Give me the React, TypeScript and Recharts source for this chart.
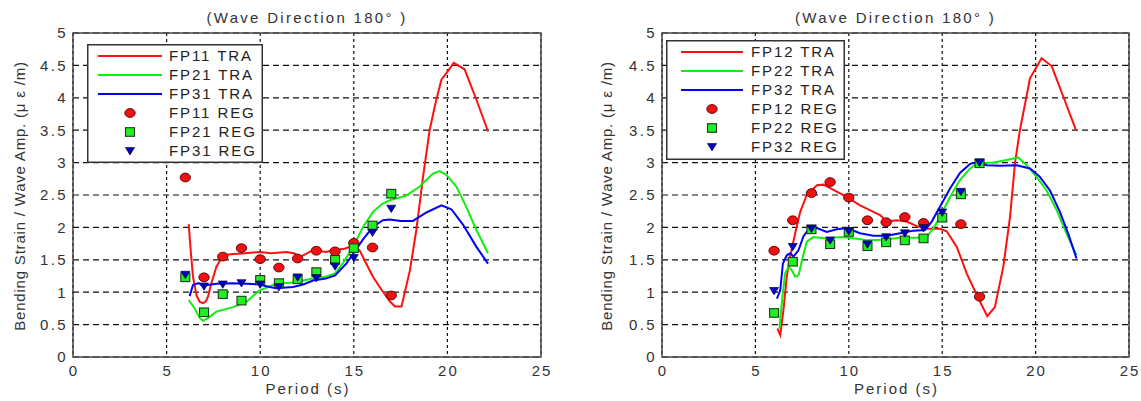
import React from 'react';
import { ComposedChart, Line, Scatter, XAxis, YAxis, CartesianGrid, ReferenceArea, Legend } from 'recharts';

const FONT = '"Liberation Sans", Arial, Helvetica, sans-serif';
const RED = '#ff1010';
const GREEN = '#10ee10';
const BLUE = '#0000ff';

const xTicks = [0, 5, 10, 15, 20, 25];
const yTicks = [0, 0.5, 1, 1.5, 2, 2.5, 3, 3.5, 4, 4.5, 5];
const titleText = '(Wave Direction 180°  )';
const xLabelText = 'Period (s)';
const yLabelText = 'Bending Strain / Wave Amp. (μ ε /m)';

const regPeriods = [6, 7, 8, 9, 10, 11, 12, 13, 14, 15, 16, 17];

// ---- left panel ----
const leftNames = ['FP11 TRA', 'FP21 TRA', 'FP31 TRA', 'FP11 REG', 'FP21 REG', 'FP31 REG'];
const fp11Reg = [2.77, 1.23, 1.55, 1.68, 1.51, 1.38, 1.52, 1.64, 1.63, 1.76, 1.69, 0.95];
const fp21Reg = [1.23, 0.69, 0.97, 0.87, 1.19, 1.14, 1.2, 1.31, 1.5, 1.68, 2.03, 2.52];
const fp31Reg = [1.27, 1.09, 1.12, 1.14, 1.12, 1.08, 1.23, 1.22, 1.4, 1.53, 1.92, 2.29];

const fp11TraX = [6.18, 6.3, 6.41, 6.6, 6.77, 6.95, 7.1, 7.21, 7.4, 7.66, 8.01, 8.55, 9.2, 9.97, 10.6, 11.4, 11.8, 12.15, 12.5, 12.82, 13.5, 14.0, 14.5, 14.96, 15.3, 15.67, 16.0, 16.38, 16.92, 17.2, 17.55, 18.0, 18.34, 18.7, 19.05, 19.35, 19.68, 20.0, 20.34, 20.92, 21.55, 22.17];
const fp11TraY = [2.05, 1.6, 1.24, 0.95, 0.85, 0.83, 0.86, 0.93, 1.15, 1.39, 1.57, 1.59, 1.6, 1.62, 1.6, 1.62, 1.6, 1.55, 1.6, 1.65, 1.62, 1.65, 1.67, 1.72, 1.65, 1.44, 1.25, 1.08, 0.86, 0.78, 0.78, 1.34, 1.96, 2.78, 3.5, 3.9, 4.28, 4.4, 4.54, 4.44, 3.97, 3.48];

const fp21TraX = [6.18, 6.5, 6.77, 6.95, 7.21, 7.66, 8.55, 9.26, 9.97, 10.86, 11.75, 12.82, 13.5, 14.0, 14.4, 14.96, 15.5, 16.03, 16.5, 16.92, 17.8, 18.52, 19.23, 19.59, 19.95, 20.48, 21.0, 21.55, 22.17];
const fp21TraY = [0.88, 0.75, 0.6, 0.56, 0.6, 0.7, 0.77, 0.85, 1.03, 1.13, 1.15, 1.21, 1.24, 1.29, 1.44, 1.7, 2.01, 2.24, 2.36, 2.42, 2.49, 2.63, 2.83, 2.87, 2.81, 2.63, 2.32, 1.96, 1.6];

const fp31TraX = [6.23, 6.41, 6.7, 6.95, 7.66, 8.55, 9.3, 9.97, 10.5, 10.86, 11.75, 12.3, 12.82, 13.5, 14.0, 14.6, 14.96, 15.5, 16.03, 16.56, 16.92, 17.5, 18.16, 18.88, 19.68, 20.21, 20.84, 21.55, 22.17];
const fp31TraY = [0.94, 1.11, 1.14, 1.1, 1.13, 1.14, 1.13, 1.12, 1.08, 1.06, 1.08, 1.12, 1.18, 1.21, 1.26, 1.44, 1.59, 1.82, 2.01, 2.11, 2.12, 2.1, 2.1, 2.23, 2.34, 2.28, 2.04, 1.7, 1.44];

// ---- right panel ----
const rightNames = ['FP12 TRA', 'FP22 TRA', 'FP32 TRA', 'FP12 REG', 'FP22 REG', 'FP32 REG'];
const fp12Reg = [1.64, 2.11, 2.53, 2.7, 2.46, 2.11, 2.08, 2.16, 2.07, null, 2.05, 0.93];
const fp22Reg = [0.68, 1.47, 1.97, 1.74, 1.93, 1.71, 1.77, 1.8, 1.83, 2.15, 2.51, 2.99];
const fp32Reg = [1.02, 1.7, 1.98, 1.8, 1.94, 1.74, 1.85, 1.91, 1.99, 2.23, 2.55, 3.0];

const fp12TraX = [6.18, 6.33, 6.5, 6.68, 6.86, 7.13, 7.4, 7.75, 8.29, 8.65, 9.18, 9.89, 10.6, 11.32, 11.67, 12.03, 12.56, 13.1, 13.64, 14.17, 14.88, 15.24, 15.78, 16.31, 16.9, 17.41, 17.82, 18.27, 18.63, 18.9, 19.16, 19.7, 20.32, 20.86, 21.48, 22.16];
const fp12TraY = [0.44, 0.34, 0.72, 1.24, 1.55, 1.91, 2.24, 2.5, 2.65, 2.66, 2.58, 2.47, 2.34, 2.24, 2.19, 2.09, 2.11, 2.09, 2.02, 1.98, 1.98, 1.94, 1.7, 1.29, 0.93, 0.63, 0.77, 1.39, 2.16, 3.0, 3.5, 4.3, 4.61, 4.49, 4.02, 3.5];

const fp22TraX = [6.29, 6.4, 6.59, 6.77, 6.95, 7.13, 7.31, 7.49, 7.75, 8.11, 8.82, 9.54, 10.07, 10.96, 11.85, 12.75, 13.64, 14.17, 14.52, 14.88, 15.42, 15.95, 16.49, 16.9, 17.74, 18.45, 19.07, 19.52, 20.05, 20.59, 21.12, 21.66, 22.19];
const fp22TraY = [0.44, 0.8, 1.29, 1.39, 1.34, 1.24, 1.26, 1.49, 1.78, 1.85, 1.83, 1.85, 1.84, 1.8, 1.81, 1.84, 1.84, 1.85, 1.98, 2.16, 2.47, 2.73, 2.91, 2.99, 3.0, 3.04, 3.08, 2.96, 2.78, 2.57, 2.27, 1.9, 1.57];

const fp32TraX = [6.15, 6.33, 6.47, 6.68, 6.86, 7.04, 7.31, 7.57, 7.84, 8.29, 8.82, 9.36, 9.89, 10.6, 11.32, 12.03, 12.75, 13.46, 14.08, 14.44, 14.88, 15.42, 15.95, 16.49, 16.9, 17.38, 18.1, 18.99, 19.7, 20.23, 20.77, 21.3, 21.75, 22.19];
const fp32TraY = [0.9, 1.03, 1.44, 1.57, 1.6, 1.55, 1.65, 1.86, 1.97, 1.99, 1.93, 1.97, 1.99, 1.91, 1.87, 1.87, 1.91, 1.95, 1.96, 2.09, 2.32, 2.6, 2.84, 2.98, 3.01, 2.96, 2.95, 2.96, 2.91, 2.78, 2.57, 2.24, 1.9, 1.52];

type Pt = { x: number; y: number };
const zip = (xs: number[], ys: (number | null)[]): Pt[] =>
  xs.map((x, i) => ({ x, y: ys[i] as number })).filter((p) => p.y !== null && p.y !== undefined);

function CircleMark(p: any) {
  if (p.cx == null || p.cy == null) return null;
  return <ellipse cx={p.cx} cy={p.cy} rx={5.2} ry={4.4} fill="#ee1111" stroke="#5a0000" strokeWidth={0.9} />;
}
function SquareMark(p: any) {
  if (p.cx == null || p.cy == null) return null;
  return <rect x={p.cx - 4.5} y={p.cy - 4.3} width={9} height={8.6} fill="#22ee22" stroke="#1e3a1e" strokeWidth={1.1} />;
}
function TriMark(p: any) {
  if (p.cx == null || p.cy == null) return null;
  const { cx, cy } = p;
  return (
    <polygon
      points={`${cx - 4.5},${cy - 3.4} ${cx + 4.5},${cy - 3.4} ${cx},${cy + 3.9}`}
      fill="#0000bb"
      stroke="#000050"
      strokeWidth={0.7}
    />
  );
}

const XTick = (p: any) => (
  <text x={p.x + 1} y={p.y} dy="0.71em" textAnchor="middle" fontSize={15} fontFamily={FONT} letterSpacing={2} fill="#333">
    {p.payload.value}
  </text>
);
const YTick = (p: any) => (
  <text x={p.x} y={p.y} dy="0.355em" textAnchor="end" fontSize={15} fontFamily={FONT} letterSpacing={2.4} fill="#333">
    {p.payload.value}
  </text>
);

type LegendCfg = { left: number; top: number; w: number; h: number; lx1: number; lx2: number; tx: number };

function makeLegend(names: string[], cfg: LegendCfg) {
  const kinds = ['line', 'line', 'line', 'circle', 'square', 'tri'];
  const colors = [RED, GREEN, BLUE, RED, GREEN, BLUE];
  return () => (
    <svg width={cfg.w} height={cfg.h} style={{ display: 'block' }}>
      <rect x={0.75} y={0.75} width={cfg.w - 1.5} height={cfg.h - 1.5} fill="#fff" stroke="#333" strokeWidth={1.5} />
      {names.map((n, i) => {
        const cy = 12 + i * 19;
        const mx = (cfg.lx1 + cfg.lx2) / 2;
        const k = kinds[i];
        return (
          <g key={n}>
            {k === 'line' && <line x1={cfg.lx1} x2={cfg.lx2} y1={cy} y2={cy} stroke={colors[i]} strokeWidth={2} />}
            {k === 'circle' && <CircleMark cx={mx} cy={cy} />}
            {k === 'square' && <SquareMark cx={mx} cy={cy} />}
            {k === 'tri' && <TriMark cx={mx} cy={cy} />}
            <text x={cfg.tx} y={cy + 5.4} fontSize={15} fontFamily={FONT} letterSpacing={1.9} fill="#222">
              {n}
            </text>
          </g>
        );
      })}
    </svg>
  );
}

type PanelProps = {
  left: number;
  width: number;
  margin: { top: number; right: number; bottom: number; left: number };
  names: string[];
  tra: Pt[][];
  reg: Pt[][];
  legend: LegendCfg;
  yLabelX: number;
};

function Panel({ left, width, margin, names, tra, reg, legend, yLabelX }: PanelProps) {
  const height = 401;
  const plotLeft = margin.left + 60;
  const plotRight = width - margin.right;
  const plotTop = margin.top;
  const plotBottom = height - margin.bottom - 30;
  const cx = (plotLeft + plotRight) / 2;
  const cy = (plotTop + plotBottom) / 2;
  const colors = [RED, GREEN, BLUE];
  const shapes = [CircleMark, SquareMark, TriMark];
  return (
    <div style={{ position: 'absolute', left, top: 0, width, height }}>
      <ComposedChart width={width} height={height} margin={margin}>
        <CartesianGrid horizontal={true} vertical={false} stroke="#111" strokeWidth={1.2} strokeDasharray="6 4" />
        <CartesianGrid horizontal={false} vertical={true} stroke="#111" strokeWidth={1.2} strokeDasharray="3 3" />
        <XAxis
          type="number"
          dataKey="x"
          domain={[0, 25]}
          ticks={xTicks}
          allowDataOverflow
          height={30}
          tickLine={false}
          axisLine={false}
          tickSize={0}
          tickMargin={8}
          tick={XTick}
          interval={0}
          label={() => (
            <text x={cx + 1} y={plotBottom + 37} textAnchor="middle" fontSize={15} fontFamily={FONT} letterSpacing={2} fill="#333">
              {xLabelText}
            </text>
          )}
        />
        <YAxis
          type="number"
          dataKey="y"
          domain={[0, 5]}
          ticks={yTicks}
          allowDataOverflow
          width={60}
          tickLine={false}
          axisLine={false}
          tickSize={0}
          tickMargin={5}
          tick={YTick}
          interval={0}
          label={() => (
            <text
              transform={`translate(${yLabelX},${cy + 1}) rotate(-90)`}
              textAnchor="middle"
              fontSize={15}
              fontFamily={FONT}
              letterSpacing={0.8}
              fill="#333"
            >
              {yLabelText}
            </text>
          )}
        />
        <ReferenceArea x1={0} x2={25} y1={0} y2={5} fill="none" fillOpacity={0} stroke="#444" strokeWidth={1.5} ifOverflow="visible" />
        {tra.map((d, i) => (
          <Line
            key={names[i]}
            name={names[i]}
            data={d}
            dataKey="y"
            type="linear"
            stroke={colors[i]}
            strokeWidth={2}
            dot={false}
            activeDot={false}
            isAnimationActive={false}
          />
        ))}
        {reg.map((d, i) => (
          <Scatter
            key={names[i + 3]}
            name={names[i + 3]}
            data={d}
            dataKey="y"
            fill={colors[i]}
            shape={shapes[i]}
            isAnimationActive={false}
          />
        ))}
        <Legend
          layout="horizontal"
          verticalAlign="middle"
          align="center"
          content={makeLegend(names, legend)}
          wrapperStyle={{ left: legend.left, top: legend.top, width: legend.w, height: legend.h, margin: 0, padding: 0 }}
        />
      </ComposedChart>
      <svg width={width} height={height} style={{ position: 'absolute', left: 0, top: 0, pointerEvents: 'none' }}>
        <text x={cx} y={23} textAnchor="middle" fontSize={15} fontFamily={FONT} letterSpacing={2.3} fill="#333">
          {titleText}
        </text>
      </svg>
    </div>
  );
}

export default function App() {
  const leftTra = [zip(fp11TraX, fp11TraY), zip(fp21TraX, fp21TraY), zip(fp31TraX, fp31TraY)];
  const leftReg = [zip(regPeriods, fp11Reg), zip(regPeriods, fp21Reg), zip(regPeriods, fp31Reg)];
  const rightTra = [zip(fp12TraX, fp12TraY), zip(fp22TraX, fp22TraY), zip(fp32TraX, fp32TraY)];
  const rightReg = [zip(regPeriods, fp12Reg), zip(regPeriods, fp22Reg), zip(regPeriods, fp32Reg)];
  return (
    <div style={{ position: 'absolute', left: 0, top: 0, width: 1141, height: 401, background: '#fff', overflow: 'hidden' }}>
      <Panel
        left={0}
        width={570}
        margin={{ top: 33, right: 29, bottom: 14, left: 13 }}
        names={leftNames}
        tra={leftTra}
        reg={leftReg}
        legend={{ left: 87, top: 44, w: 176, h: 119, lx1: 11, lx2: 75, tx: 82 }}
        yLabelX={25}
      />
      <Panel
        left={570}
        width={571}
        margin={{ top: 33, right: 12, bottom: 14, left: 32 }}
        names={rightNames}
        tra={rightTra}
        reg={rightReg}
        legend={{ left: 96, top: 40, w: 179, h: 120, lx1: 15, lx2: 77, tx: 85 }}
        yLabelX={42}
      />
    </div>
  );
}
